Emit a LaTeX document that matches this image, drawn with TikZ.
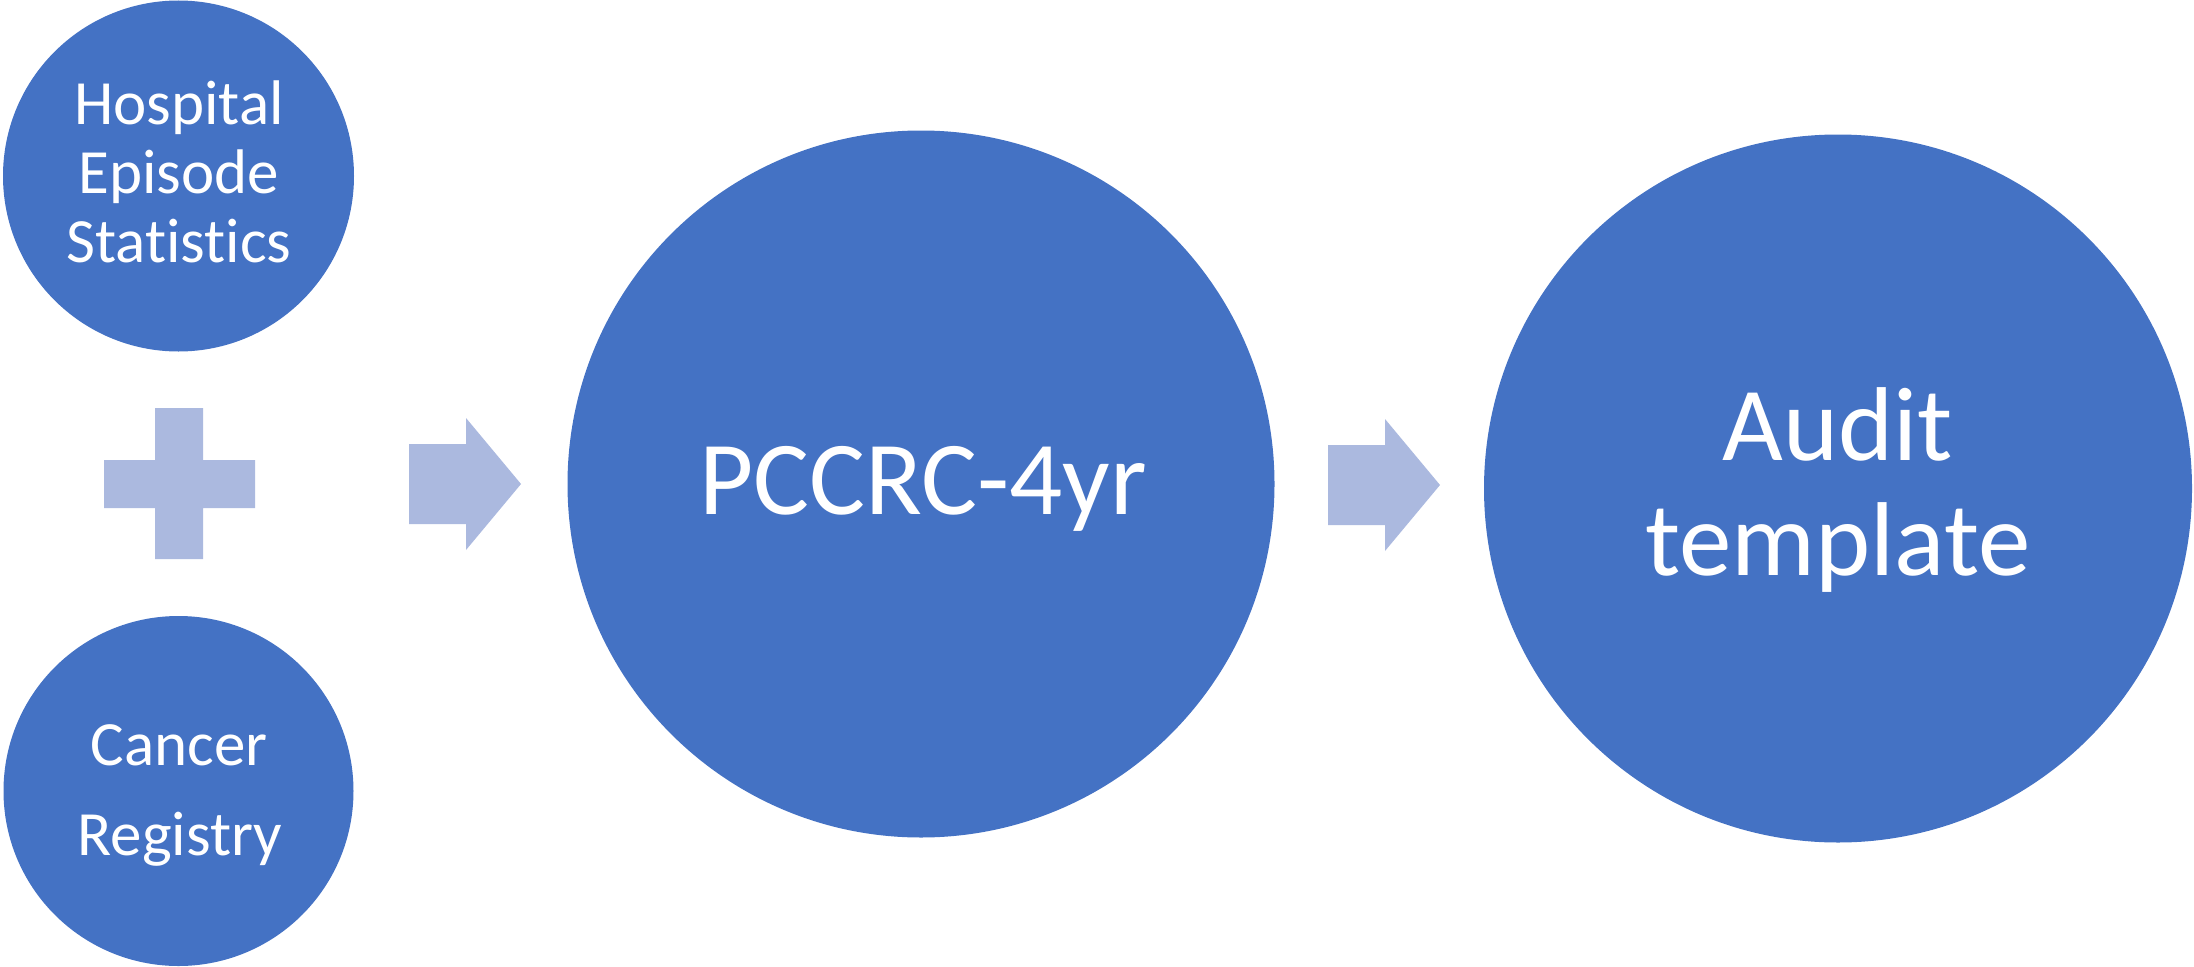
\documentclass[tikz,border=0pt]{standalone}
\usepackage{fontspec}
\setmainfont{Carlito}[Ligatures={NoCommon,NoContextual}]
\definecolor{circblue}{RGB}{68,114,196}
\definecolor{arrowblue}{RGB}{171,185,223}
\begin{document}
\begin{tikzpicture}[x=1pt,y=-1pt,
  disc/.style={circle,fill=circblue,draw=none,inner sep=0pt,minimum size=#1},
  smalltxt/.style={anchor=base,text=white,inner sep=0pt,font=\fontsize{63}{70}\selectfont},
  bigtxt/.style={anchor=base,text=white,inner sep=0pt,font=\fontsize{105}{115}\selectfont},
  blockarrow/.style={fill=arrowblue,draw=none}]
\useasboundingbox (0,0) rectangle (2194,966);

% circles
\node[disc=351pt] (hes) at (178.5,176) {};
\node[disc=350pt] (cr) at (178.5,791) {};
\node[disc=707pt] (pccrc) at (921,484) {};
\node[disc=708pt] (audit) at (1838,488.5) {};

% texts
\node[smalltxt] (hes1) at (179,124) {Hospital};
\node[smalltxt] (hes2) at (179,193) {Episode};
\node[smalltxt] (hes3) at (179,262) {Statistics};
\node[smalltxt] (cr1) at (179,765) {Cancer};
\node[smalltxt] (cr2) at (180,855) {Registry};
\node[bigtxt] (pccrc1) at (923,514) {PCCRC-4yr};
\node[bigtxt] (audit1) at (1838,460) {Audit};
\node[bigtxt] (audit2) at (1838,575) {template};

% plus sign
\fill[blockarrow] (155,408) -- (203,408) -- (203,460) -- (255,460) -- (255,508)
  -- (203,508) -- (203,559) -- (155,559) -- (155,508) -- (104,508) -- (104,460)
  -- (155,460) -- cycle;

% block arrows
\fill[blockarrow] (409,444) -- (466,444) -- (466,418) -- (521,484) -- (466,550)
  -- (466,524) -- (409,524) -- cycle;
\fill[blockarrow] (1328,445) -- (1385,445) -- (1385,419) -- (1440,485) -- (1385,551)
  -- (1385,525) -- (1328,525) -- cycle;
\end{tikzpicture}
\end{document}
